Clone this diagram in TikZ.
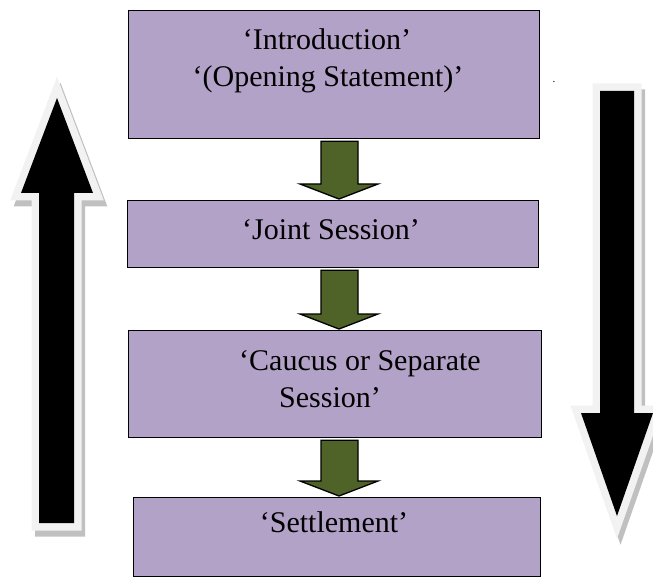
\documentclass[tikz,border=0pt]{standalone}
\usepackage{fontspec}
\setmainfont{Liberation Serif}
\usetikzlibrary{calc}
\definecolor{boxfill}{HTML}{B3A2C7}
\definecolor{arrowgreen}{HTML}{4F6228}
\definecolor{outlinegray}{HTML}{F2F2F2}
\definecolor{shadowgray}{HTML}{C0C0C0}
\tikzset{
  box/.style={draw=black, line width=1.2pt, fill=boxfill, anchor=north west, inner sep=0pt},
  lbl/.style={anchor=base, font=\fontsize{30}{36}\selectfont, inner sep=0pt},
  garrow/.style={draw=black, line width=1.3pt, fill=arrowgreen, line join=miter},
  bigout/.style={draw=outlinegray, line width=15pt, line join=miter},
  bigshadow/.style={draw=shadowgray, fill=shadowgray, line width=15pt, line join=miter},
}
\newcommand\flowarrow[2]{%
  \draw[garrow] let \p1=(#1.south), \p2=(#2.north) in
    (321pt,\y1-2pt) -- (358pt,\y1-2pt) -- (358pt,\y2+16pt) -- (378pt,\y2+16pt)
    -- (339pt,\y2+1pt) -- (300pt,\y2+16pt) -- (321pt,\y2+16pt) -- cycle;}
\begin{document}
\begin{tikzpicture}[x=1pt,y=-1pt]
\useasboundingbox (0,0) rectangle (653,577);
% left big arrow (up)
\begin{scope}[shift={(3.5,6)}]
  \filldraw[bigshadow] (57,98) -- (93,193) -- (74,193) -- (74,523) -- (39,523) -- (39,193) -- (21,193) -- cycle;
\end{scope}
\draw[bigout] (57,98) -- (93,193) -- (74,193) -- (74,523) -- (39,523) -- (39,193) -- (21,193) -- cycle;
\fill[black] (57,98) -- (93,193) -- (74,193) -- (74,523) -- (39,523) -- (39,193) -- (21,193) -- cycle;
% right big arrow (down)
\begin{scope}[shift={(3.5,6)}]
  \filldraw[bigshadow] (600,91) -- (634,91) -- (634,413) -- (653,413) -- (617,516) -- (581,413) -- (600,413) -- cycle;
\end{scope}
\draw[bigout] (600,91) -- (634,91) -- (634,413) -- (653,413) -- (617,516) -- (581,413) -- (600,413) -- cycle;
\fill[black] (600,91) -- (634,91) -- (634,413) -- (653,413) -- (617,516) -- (581,413) -- (600,413) -- cycle;
% boxes
\node[box, minimum width=411pt, minimum height=128pt] (b1) at (128,10) {};
\node[box, minimum width=411pt, minimum height=67pt] (b2) at (127,200) {};
\node[box, minimum width=413pt, minimum height=107pt] (b3) at (128,330) {};
\node[box, minimum width=407pt, minimum height=79pt] (b4) at (133,497) {};
% labels
\node[lbl] (t1a) at (327,50) {‘Introduction’};
\node[lbl] (t1b) at (328,87) {‘(Opening Statement)’};
\node[lbl] (t2) at (331,240) {‘Joint Session’};
\node[lbl] (t3a) at (360,370) {‘Caucus or Separate};
\node[lbl] (t3b) at (330,407) {Session’};
\node[lbl] (t4) at (334,532) {‘Settlement’};
\node[anchor=base, font=\fontsize{11}{12}\selectfont, inner sep=0pt] (dot) at (554,83) {.};
% connectors
\flowarrow{b1}{b2}
\flowarrow{b2}{b3}
\flowarrow{b3}{b4}
\end{tikzpicture}
\end{document}
